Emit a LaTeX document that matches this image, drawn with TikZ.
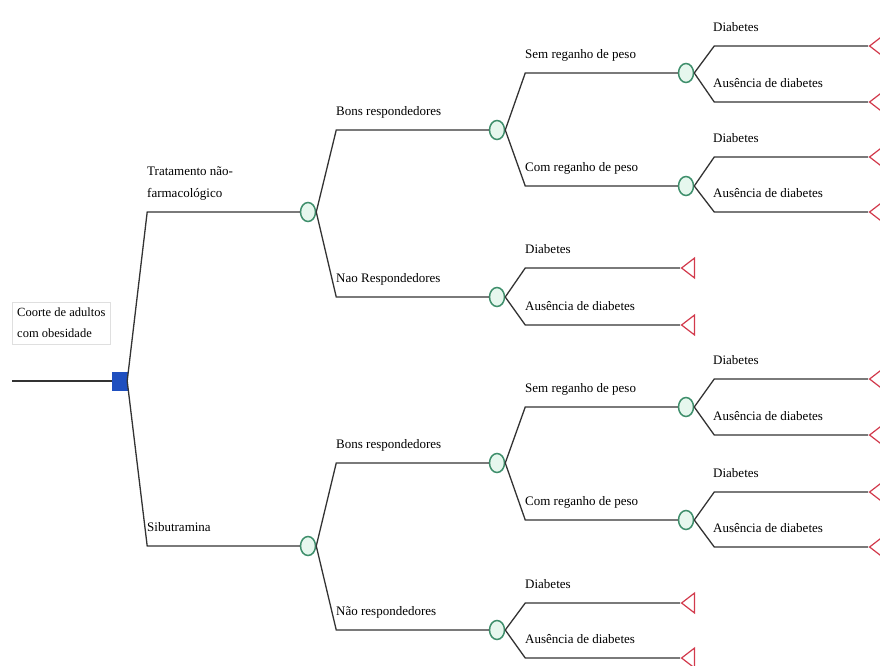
\documentclass[tikz,border=0pt]{standalone}
\usepackage{fontspec}
\setmainfont{Liberation Serif}
\usetikzlibrary{shapes.geometric}
\definecolor{chancegreen}{HTML}{3F8F6C}
\definecolor{chancefill}{HTML}{E6F7EE}
\definecolor{decisionblue}{HTML}{1F4FBF}
\definecolor{terminalred}{HTML}{D23A4C}
\definecolor{branchgray}{HTML}{333333}
\tikzset{
	chance/.style={ellipse, draw=chancegreen, fill=chancefill, line width=1.5pt, minimum width=15pt, minimum height=19pt, inner sep=0pt},
	decision/.style={rectangle, draw=decisionblue, fill=decisionblue, minimum width=15pt, minimum height=18pt, inner sep=0pt},
	terminal/.style={isosceles triangle, isosceles triangle stretches, shape border rotate=180, draw=terminalred, fill=white, line width=1.2pt, minimum width=20pt, minimum height=13pt, inner sep=0pt, anchor=apex},
	branch/.style={draw=branchgray, line width=1.3pt, to path={-- ([xshift=20pt]\tikztostart |- \tikztotarget) -- (\tikztotarget)}},
	lbl/.style={anchor=south west, inner sep=0pt, text depth=3pt, font=\fontsize{13}{22}\selectfont, align=left},
}
\begin{document}
\begin{tikzpicture}[x=1pt,y=-1pt]
		\useasboundingbox (0,0) rectangle (880,666);
		\coordinate (start) at (12,381);
		\node[decision] (d0) at (119.5,381) {};
		\node[draw=gray!25, anchor=north west, inner xsep=5pt, inner ysep=6pt, align=left, font=\fontsize{12.5}{21}\selectfont] (cohort) at (12,302) {Coorte de adultos\\com obesidade};
		\node[chance] (c1) at (308,212) {};
		\node[chance] (c2) at (308,546) {};
		\node[chance] (c11) at (497,130) {};
		\node[chance] (c12) at (497,297) {};
		\node[chance] (c21) at (497,463) {};
		\node[chance] (c22) at (497,630) {};
		\node[chance] (c111) at (686,73) {};
		\node[chance] (c112) at (686,186) {};
		\node[chance] (c211) at (686,407) {};
		\node[chance] (c212) at (686,520) {};
		\node[terminal] (t1111) at (868,46) {};
		\node[terminal] (t1112) at (868,102) {};
		\node[terminal] (t1121) at (868,157) {};
		\node[terminal] (t1122) at (868,212) {};
		\node[terminal] (t121) at (680,268) {};
		\node[terminal] (t122) at (680,325) {};
		\node[terminal] (t2111) at (868,379) {};
		\node[terminal] (t2112) at (868,435) {};
		\node[terminal] (t2121) at (868,492) {};
		\node[terminal] (t2122) at (868,547) {};
		\node[terminal] (t221) at (680,603) {};
		\node[terminal] (t222) at (680,658) {};
		\draw[draw=branchgray, line width=1.3pt] (start) -- (d0.west);
		\draw[branch] (d0.east) to (c1.west);
		\draw[branch] (d0.east) to (c2.west);
		\draw[branch] (c1.east) to (c11.west);
		\draw[branch] (c1.east) to (c12.west);
		\draw[branch] (c2.east) to (c21.west);
		\draw[branch] (c2.east) to (c22.west);
		\draw[branch] (c11.east) to (c111.west);
		\draw[branch] (c11.east) to (c112.west);
		\draw[branch] (c12.east) to (t121.apex);
		\draw[branch] (c12.east) to (t122.apex);
		\draw[branch] (c21.east) to (c211.west);
		\draw[branch] (c21.east) to (c212.west);
		\draw[branch] (c22.east) to (t221.apex);
		\draw[branch] (c22.east) to (t222.apex);
		\draw[branch] (c111.east) to (t1111.apex);
		\draw[branch] (c111.east) to (t1112.apex);
		\draw[branch] (c112.east) to (t1121.apex);
		\draw[branch] (c112.east) to (t1122.apex);
		\draw[branch] (c211.east) to (t2111.apex);
		\draw[branch] (c211.east) to (t2112.apex);
		\draw[branch] (c212.east) to (t2121.apex);
		\draw[branch] (c212.east) to (t2122.apex);
		\node[lbl] (l1) at (147,201) {Tratamento não-\\farmacológico};
		\node[lbl] (l2) at (147,535) {Sibutramina};
		\node[lbl] (l11) at (336,119) {Bons respondedores};
		\node[lbl] (l12) at (336,286) {Nao Respondedores};
		\node[lbl] (l21) at (336,452) {Bons respondedores};
		\node[lbl] (l22) at (336,619) {Não respondedores};
		\node[lbl] (l111) at (525,62) {Sem reganho de peso};
		\node[lbl] (l112) at (525,175) {Com reganho de peso};
		\node[lbl] (l121) at (525,257) {Diabetes};
		\node[lbl] (l122) at (525,314) {Ausência de diabetes};
		\node[lbl] (l211) at (525,396) {Sem reganho de peso};
		\node[lbl] (l212) at (525,509) {Com reganho de peso};
		\node[lbl] (l221) at (525,592) {Diabetes};
		\node[lbl] (l222) at (525,647) {Ausência de diabetes};
		\node[lbl] (l1111) at (713,35) {Diabetes};
		\node[lbl] (l1112) at (713,91) {Ausência de diabetes};
		\node[lbl] (l1121) at (713,146) {Diabetes};
		\node[lbl] (l1122) at (713,201) {Ausência de diabetes};
		\node[lbl] (l2111) at (713,368) {Diabetes};
		\node[lbl] (l2112) at (713,424) {Ausência de diabetes};
		\node[lbl] (l2121) at (713,481) {Diabetes};
		\node[lbl] (l2122) at (713,536) {Ausência de diabetes};
	\end{tikzpicture}
\end{document}
